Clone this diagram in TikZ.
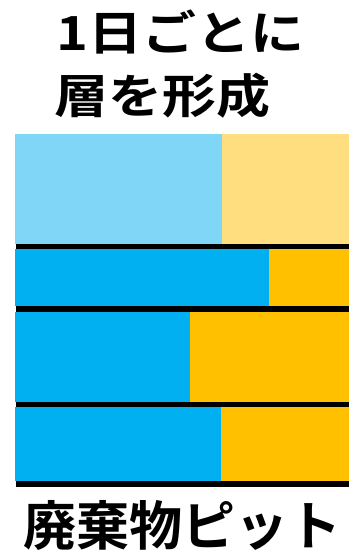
\documentclass[tikz,border=0pt]{standalone}
\usepackage{fontspec}
\newfontfamily\cjk{Noto Sans CJK JP}[BoldFont={Noto Sans CJK JP Bold}]
\definecolor{paleblue}{HTML}{7FD6F7}
\definecolor{paleyellow}{HTML}{FFDE80}
\definecolor{myblue}{HTML}{00B0F0}
\definecolor{myyellow}{HTML}{FFC000}
\begin{document}
\begin{tikzpicture}[x=1pt,y=-1pt,
  title/.style={inner sep=0pt,font=\cjk\bfseries\fontsize{47}{47}\selectfont,xscale=1.15},
  label/.style={inner sep=0pt,font=\cjk\bfseries\fontsize{53}{53}\selectfont},
  sep/.style={fill=black}]
\useasboundingbox (0,0) rectangle (361,552);
\fill[white] (0,0) rectangle (361,552);
% band 1
\fill[paleblue] (15,134) rectangle (222,244);
\fill[paleyellow] (222,134) rectangle (349,244);
\fill[sep] (16,243.5) rectangle (349,248.7);
% band 2
\fill[myblue] (15,248.7) rectangle (269,306);
\fill[myyellow] (269,248.7) rectangle (349,306);
\fill[sep] (16,306) rectangle (349,312);
% band 3
\fill[myblue] (15,312) rectangle (190,402);
\fill[myyellow] (190,312) rectangle (349,402);
\fill[sep] (16,402) rectangle (349,407.3);
% band 4
\fill[myblue] (15,407.3) rectangle (221,481.3);
\fill[myyellow] (221,407.3) rectangle (349,481.3);
\fill[sep] (16,481.3) rectangle (349,486.7);
% texts
\node[title,anchor=base west] (t1) at (56,50) {1日ごとに};
\node[title,anchor=base west] (t2) at (54,113) {層を形成};
\node[label,anchor=base west] (pit) at (23,545) {廃棄物ピット};
\end{tikzpicture}
\end{document}
